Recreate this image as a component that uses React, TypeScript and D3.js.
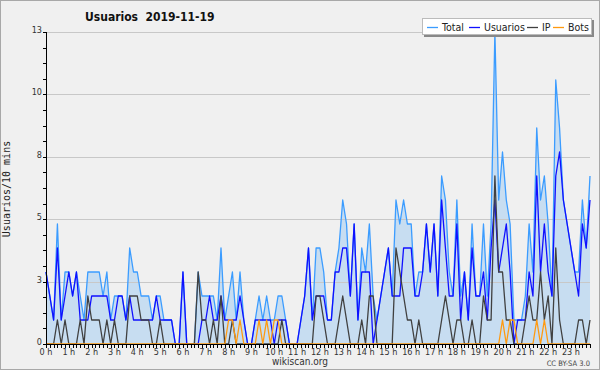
import React, { useEffect, useRef } from 'react';
import * as d3 from 'd3';

// 10-minute buckets, 6 per hour (00:00 .. 23:50)
const hourLabels = ["0 h", "1 h", "2 h", "3 h", "4 h", "5 h", "6 h", "7 h", "8 h", "9 h", "10 h", "11 h",
    "12 h", "13 h", "14 h", "15 h", "16 h", "17 h", "18 h", "19 h", "20 h", "21 h", "22 h", "23 h"];

const total = [
    3, 2, 1, 5, 1, 3, 3, 2, 3, 2, 1, 3, 3, 3, 3, 2, 3, 1, 2, 2, 2, 1, 4, 3,
    3, 2, 2, 2, 1, 2, 2, 1, 1, 1, 0, 0, 3, 0, 0, 0, 3, 2, 2, 2, 2, 1, 4, 1,
    2, 3, 1, 3, 1, 0, 0, 1, 2, 1, 2, 1, 1, 2, 2, 1, 0, 0, 0, 1, 2, 4, 1, 4,
    4, 3, 1, 1, 3, 4, 6, 5, 2, 5, 1, 4, 3, 5, 2, 1, 2, 3, 4, 2, 6, 5, 6, 5,
    5, 2, 3, 3, 5, 3, 5, 2, 7, 6, 3, 2, 6, 2, 3, 1, 5, 2, 2, 5, 2, 5, 13, 6,
    8, 6, 5, 1, 1, 1, 2, 5, 3, 9, 6, 7, 5, 2, 11, 9, 6, 5, 4, 3, 3, 6, 4, 7
];
const usuarios = [
    3, 2, 1, 4, 1, 2, 3, 2, 3, 1, 1, 1, 2, 2, 2, 2, 2, 1, 1, 2, 2, 1, 2, 1,
    1, 1, 1, 1, 1, 2, 1, 1, 1, 1, 0, 0, 3, 0, 0, 0, 0, 1, 1, 2, 1, 1, 2, 1,
    1, 1, 1, 2, 1, 0, 0, 1, 1, 1, 1, 1, 0, 1, 1, 1, 0, 0, 0, 1, 2, 4, 1, 2,
    2, 2, 1, 1, 3, 3, 4, 4, 2, 5, 1, 3, 3, 3, 0, 1, 2, 3, 4, 2, 2, 2, 4, 4,
    4, 2, 2, 3, 5, 3, 5, 2, 6, 4, 2, 2, 5, 1, 3, 1, 4, 2, 2, 3, 1, 4, 6, 3,
    4, 5, 3, 0, 1, 1, 1, 3, 2, 7, 3, 5, 3, 2, 7, 8, 6, 5, 4, 3, 2, 5, 4, 6
];
const ip = [
    0, 0, 0, 1, 0, 1, 0, 0, 0, 1, 0, 2, 1, 1, 1, 0, 1, 0, 1, 0, 0, 0, 2, 2,
    2, 1, 1, 1, 0, 0, 1, 0, 0, 0, 0, 0, 0, 0, 0, 0, 3, 1, 1, 0, 1, 0, 2, 0,
    0, 1, 0, 0, 0, 0, 0, 0, 0, 0, 0, 0, 0, 0, 1, 0, 0, 0, 0, 0, 0, 0, 0, 2,
    2, 1, 0, 0, 0, 1, 2, 1, 0, 0, 0, 1, 0, 2, 2, 0, 0, 0, 0, 0, 4, 3, 2, 1,
    1, 0, 1, 0, 0, 0, 0, 0, 1, 2, 1, 0, 1, 1, 0, 0, 1, 0, 0, 2, 1, 1, 7, 3,
    3, 1, 1, 0, 0, 0, 1, 2, 1, 1, 3, 1, 2, 0, 4, 1, 0, 0, 0, 0, 1, 1, 0, 1
];
const bots = [
    0, 0, 0, 0, 0, 0, 0, 0, 0, 0, 0, 0, 0, 0, 0, 0, 0, 0, 0, 0, 0, 0, 0, 0,
    0, 0, 0, 0, 0, 0, 0, 0, 0, 0, 0, 0, 0, 0, 0, 0, 0, 0, 0, 0, 0, 0, 0, 0,
    1, 1, 0, 1, 0, 0, 0, 0, 1, 0, 1, 0, 1, 1, 0, 0, 0, 0, 0, 0, 0, 0, 0, 0,
    0, 0, 0, 0, 0, 0, 0, 0, 0, 0, 0, 0, 0, 0, 0, 0, 0, 0, 0, 0, 0, 0, 0, 0,
    0, 0, 0, 0, 0, 0, 0, 0, 0, 0, 0, 0, 0, 0, 0, 0, 0, 0, 0, 0, 0, 0, 0, 0,
    1, 0, 1, 1, 0, 0, 0, 0, 0, 1, 0, 1, 0, 0, 0, 0, 0, 0, 0, 0, 0, 0, 0, 0
];

const yTickValues = [0, 2.6, 5.2, 7.8, 10.4, 13];
const yTickLabels = ["0", "3", "5", "8", "10", "13"];

const seriesNames = ["Total", "Usuarios", "IP", "Bots"];
const seriesColors = ["#3b9cff", "#1010ff", "#404040", "#ff9a10"];

const App = () => {
    const ref = useRef<SVGSVGElement | null>(null);

    useEffect(() => {
        const svg = d3.select(ref.current);
        svg.selectAll("*").remove();

        const width = 600;
        const height = 370;
        const cond = "'DejaVu Sans Condensed', 'DejaVu Sans', sans-serif";
        const left = 46, right = 590, top = 32, bottom = 344;

        // background + frame
        svg.append("rect")
            .attr("x", 0.5).attr("y", 0.5)
            .attr("width", width - 1).attr("height", height - 1)
            .attr("fill", "#f0f0f0")
            .attr("stroke", "#a8a8a8");

        const xScale = d3.scaleLinear().domain([0, total.length - 1]).range([left, right]);
        const yScale = d3.scaleLinear().domain([0, 13]).range([bottom, top]);

        // area under total
        const area = d3.area<number>()
            .x((d, i) => xScale(i))
            .y0(yScale(0))
            .y1(d => yScale(d));

        svg.append("path")
            .datum(total)
            .attr("d", area)
            .attr("fill", "#c7ddf1");

        // grid
        svg.selectAll(".grid")
            .data(yTickValues.slice(1))
            .enter()
            .append("line")
            .attr("x1", left).attr("x2", right)
            .attr("y1", d => Math.round(yScale(d)) + 0.5)
            .attr("y2", d => Math.round(yScale(d)) + 0.5)
            .attr("stroke", "#c8c8c8")
            .attr("stroke-width", 1);

        // lines
        const line = d3.line<number>()
            .x((d, i) => xScale(i))
            .y(d => yScale(d));

        [total, usuarios, ip, bots].forEach((serie, k) => {
            svg.append("path")
                .datum(serie)
                .attr("d", line)
                .attr("fill", "none")
                .attr("stroke", seriesColors[k])
                .attr("stroke-width", 1.3)
                .attr("stroke-linejoin", "round");
        });

        // y axis
        const yMinor = d3.range(0, 13.01, 0.65);
        svg.append("line")
            .attr("x1", left + 0.5).attr("x2", left + 0.5)
            .attr("y1", top).attr("y2", bottom + 0.5)
            .attr("stroke", "#000");
        svg.selectAll(".ytick")
            .data(yMinor)
            .enter()
            .append("line")
            .attr("x1", left - 3).attr("x2", left)
            .attr("y1", d => Math.round(yScale(d)) + 0.5)
            .attr("y2", d => Math.round(yScale(d)) + 0.5)
            .attr("stroke", "#000");
        svg.selectAll(".ylabel")
            .data(yTickValues)
            .enter()
            .append("text")
            .attr("x", left - 4)
            .attr("y", d => yScale(d) + 1)
            .attr("text-anchor", "end")
            .attr("font-family", cond)
            .attr("font-size", 9)
            .attr("fill", "#333")
            .text((d, i) => yTickLabels[i]);

        // x axis
        svg.append("line")
            .attr("x1", left).attr("x2", right + 1)
            .attr("y1", bottom + 0.5).attr("y2", bottom + 0.5)
            .attr("stroke", "#000");
        svg.selectAll(".xtick")
            .data(d3.range(total.length))
            .enter()
            .append("line")
            .attr("x1", d => Math.round(xScale(d)) + 0.5)
            .attr("x2", d => Math.round(xScale(d)) + 0.5)
            .attr("y1", bottom)
            .attr("y2", bottom + 4)
            .attr("stroke", "#000");
        svg.selectAll(".xlabel")
            .data(hourLabels)
            .enter()
            .append("text")
            .attr("x", (d, i) => xScale(i * 6))
            .attr("y", bottom + 11)
            .attr("text-anchor", "middle")
            .attr("font-family", cond)
            .attr("font-size", 9)
            .attr("fill", "#333")
            .text(d => d);

        // title
        svg.append("text")
            .attr("x", 85)
            .attr("y", 21)
            .attr("font-family", cond)
            .attr("font-weight", "bold")
            .attr("font-size", 12)
            .attr("fill", "#111")
            .attr("xml:space", "preserve")
            .text("Usuarios  2019-11-19");

        // y axis label
        svg.append("text")
            .attr("transform", "translate(10,189) rotate(-90)")
            .attr("text-anchor", "middle")
            .attr("font-family", "'DejaVu Sans Mono', monospace")
            .attr("font-size", 10)
            .attr("fill", "#222")
            .text("Usuarios/10 mins");

        // legend
        const lg = svg.append("g");
        lg.append("rect")
            .attr("x", 424).attr("y", 20).attr("width", 170).attr("height", 17)
            .attr("fill", "#888");
        lg.append("rect")
            .attr("x", 422.5).attr("y", 18.5).attr("width", 169).attr("height", 16)
            .attr("fill", "#fff")
            .attr("stroke", "#bbb");
        const legendX = [427, 469, 527, 553];
        seriesNames.forEach((name, k) => {
            lg.append("line")
                .attr("x1", legendX[k]).attr("x2", legendX[k] + 11)
                .attr("y1", 27.5).attr("y2", 27.5)
                .attr("stroke", seriesColors[k])
                .attr("stroke-width", 1.3);
            lg.append("text")
                .attr("x", legendX[k] + 15)
                .attr("y", 31)
                .attr("font-family", cond)
                .attr("font-size", 10.5)
                .attr("fill", "#222")
                .text(name);
        });

        // footer
        svg.append("text")
            .attr("x", 300).attr("y", 365)
            .attr("text-anchor", "middle")
            .attr("font-family", cond)
            .attr("font-size", 10)
            .attr("fill", "#333")
            .text("wikiscan.org");
        svg.append("text")
            .attr("x", 590).attr("y", 366)
            .attr("text-anchor", "end")
            .attr("font-family", cond)
            .attr("font-size", 7.5)
            .attr("fill", "#444")
            .text("CC BY-SA 3.0");
    }, []);

    return (
        <div style={{ position: "absolute", left: 0, top: 0 }}>
            <svg ref={ref} width={600} height={370} style={{ display: "block" }}></svg>
        </div>
    );
};

export default App;
